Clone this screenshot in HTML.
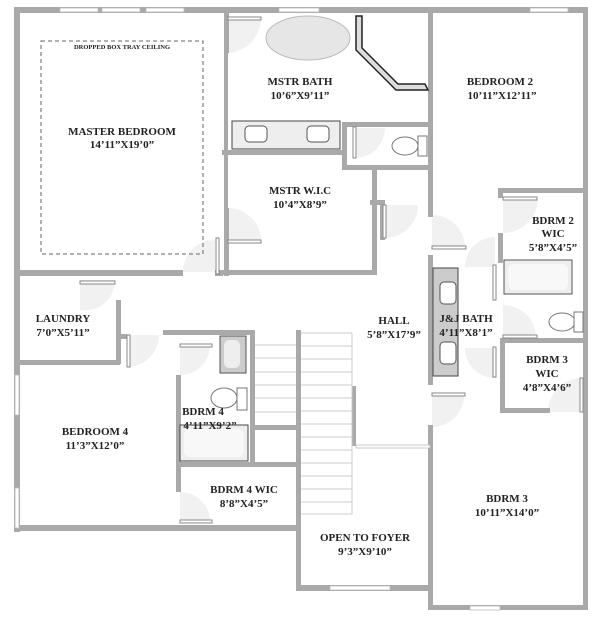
<!DOCTYPE html>
<html><head><style>
html,body{margin:0;padding:0;background:#fff}
svg{display:block}
text{font-family:"Liberation Serif",serif;font-weight:bold;fill:#222;text-anchor:middle}
</style></head><body>
<svg width="600" height="619" viewBox="0 0 600 619" xmlns="http://www.w3.org/2000/svg">
<rect width="600" height="619" fill="#fff"/>
<!-- door swings -->
<g fill="#f1f1f1">
<path d="M228 18 v35 a35 35 0 0 0 33 -35z"/>
<path d="M228 208 v35 h33 a33 33 0 0 0 -33 -35z"/>
<path d="M183 272 h32 v-32 a32 32 0 0 0 -32 32z"/>
<path d="M80 280 v30 a30 30 0 0 0 35 -30z"/>
<path d="M127 335 v32 a32 32 0 0 0 32 -32z"/>
<path d="M180 345 v30 a30 30 0 0 0 30 -30z"/>
<path d="M180 492 v30 h30 a30 30 0 0 0 -30 -30z"/>
<path d="M355 128 v30 a30 30 0 0 0 30 -30z"/>
<path d="M385 205 v33 a33 33 0 0 0 33 -33z"/>
<path d="M432 215 v33 h33 a33 33 0 0 0 -33 -33z"/>
<path d="M503 198 v35 a35 35 0 0 0 35 -35z"/>
<path d="M465 267 h30 v-30 a30 30 0 0 0 -30 30z"/>
<path d="M503 305 v33 h33 a33 33 0 0 0 -33 -33z"/>
<path d="M465 348 h30 v30 a30 30 0 0 1 -30 -30z"/>
<path d="M432 395 v32 a32 32 0 0 0 32 -32z"/>
<path d="M548 412 h34 v-34 a34 34 0 0 0 -34 34z"/>
</g>
<!-- walls -->
<g fill="#a9a9a9">
<rect x="14" y="7" width="574" height="6"/>
<rect x="14" y="7" width="6" height="525"/>
<rect x="14" y="270" width="169" height="6"/>
<rect x="215" y="270" width="8" height="6"/>
<rect x="224" y="7" width="5" height="46"/>
<rect x="224" y="53" width="4" height="155"/>
<rect x="224" y="208" width="5" height="68"/>
<rect x="223" y="270" width="152" height="5"/>
<rect x="372" y="168" width="5" height="107"/>
<rect x="222" y="150" width="120" height="5"/>
<rect x="342" y="122" width="5" height="46"/>
<rect x="342" y="122" width="90" height="5"/>
<rect x="342" y="165" width="90" height="5"/>
<rect x="428" y="7" width="5" height="210"/>
<rect x="380" y="200" width="5" height="40"/>
<rect x="370" y="200" width="15" height="5"/>
<rect x="498" y="188" width="90" height="5"/>
<rect x="498" y="188" width="5" height="10"/>
<rect x="498" y="233" width="5" height="30"/>
<rect x="583" y="7" width="5" height="602"/>
<rect x="428" y="255" width="5" height="130"/>
<rect x="428" y="425" width="5" height="185"/>
<rect x="500" y="338" width="5" height="75"/>
<rect x="500" y="338" width="85" height="5"/>
<rect x="500" y="408" width="50" height="5"/>
<rect x="428" y="605" width="160" height="5"/>
<rect x="116" y="300" width="5" height="64"/>
<rect x="14" y="360" width="106" height="5"/>
<rect x="121" y="334" width="6" height="5"/>
<rect x="163" y="330" width="90" height="5"/>
<rect x="176" y="375" width="5" height="45"/>
<rect x="176" y="420" width="5" height="72"/>
<rect x="176" y="462" width="122" height="5"/>
<rect x="14" y="525" width="286" height="6"/>
<rect x="296" y="330" width="5" height="260"/>
<rect x="250" y="330" width="5" height="135"/>
<rect x="250" y="425" width="48" height="5"/>
<rect x="296" y="585" width="136" height="6"/>
<rect x="352" y="386" width="4" height="60"/>
</g>
<!-- windows -->
<g fill="#fff" stroke="#bbb" stroke-width="0.8">
<rect x="60" y="8" width="38" height="4"/><rect x="102" y="8" width="38" height="4"/><rect x="146" y="8" width="38" height="4"/>
<rect x="279" y="8" width="40" height="4"/><rect x="530" y="8" width="38" height="4"/>
<rect x="15" y="375" width="4" height="40"/><rect x="15" y="488" width="4" height="40"/>
<rect x="330" y="586" width="60" height="4"/><rect x="470" y="606" width="30" height="4"/>
<rect x="356" y="445" width="74" height="3"/>
</g>
<!-- door leaves -->
<g fill="#fff" stroke="#888" stroke-width="1">
<rect x="228" y="17" width="33" height="3"/><rect x="228" y="240" width="33" height="3"/>
<rect x="216" y="238" width="3" height="36"/><rect x="80" y="281" width="35" height="3"/>
<rect x="127" y="335" width="3" height="32"/><rect x="180" y="344" width="32" height="3"/>
<rect x="180" y="520" width="32" height="3"/><rect x="353" y="127" width="3" height="31"/>
<rect x="383" y="205" width="3" height="33"/><rect x="432" y="246" width="34" height="3"/>
<rect x="503" y="197" width="34" height="3"/><rect x="493" y="265" width="3" height="35"/>
<rect x="503" y="335" width="34" height="3"/><rect x="493" y="347" width="3" height="30"/>
<rect x="432" y="393" width="33" height="3"/><rect x="580" y="378" width="3" height="34"/>
</g>
<!-- stairs -->
<g stroke="#ccc" stroke-width="1">
<line x1="255" y1="345" x2="296" y2="345"/><line x1="255" y1="358" x2="296" y2="358"/><line x1="255" y1="372" x2="296" y2="372"/><line x1="255" y1="385" x2="296" y2="385"/><line x1="255" y1="398" x2="296" y2="398"/><line x1="255" y1="412" x2="296" y2="412"/>
<line x1="301" y1="333" x2="352" y2="333"/><line x1="301" y1="346" x2="352" y2="346"/><line x1="301" y1="359" x2="352" y2="359"/><line x1="301" y1="372" x2="352" y2="372"/><line x1="301" y1="385" x2="352" y2="385"/><line x1="301" y1="398" x2="352" y2="398"/><line x1="301" y1="411" x2="352" y2="411"/><line x1="301" y1="424" x2="352" y2="424"/><line x1="301" y1="437" x2="352" y2="437"/><line x1="301" y1="450" x2="352" y2="450"/><line x1="301" y1="463" x2="352" y2="463"/><line x1="301" y1="476" x2="352" y2="476"/><line x1="301" y1="489" x2="352" y2="489"/><line x1="301" y1="502" x2="352" y2="502"/><line x1="301" y1="514" x2="352" y2="514"/>
<line x1="352" y1="333" x2="352" y2="514"/>
</g>
<!-- tray ceiling -->
<rect x="41" y="41" width="162" height="213" fill="none" stroke="#666" stroke-width="1" stroke-dasharray="4,3"/>
<!-- fixtures -->
<ellipse cx="308" cy="38" rx="42" ry="22" fill="#e6e6e6" stroke="#bbb"/>
<path d="M356 16 L362 16 L362 48 L398 84 L425 84 L428 90 L396 90 L356 50Z" fill="#ddd" stroke="#222" stroke-width="1.5"/>
<rect x="232" y="121" width="108" height="28" fill="#eee" stroke="#444"/>
<rect x="245" y="126" width="22" height="16" rx="4" fill="#fff" stroke="#555"/>
<rect x="307" y="126" width="22" height="16" rx="4" fill="#fff" stroke="#555"/>
<ellipse cx="405" cy="146" rx="13" ry="9" fill="#fff" stroke="#777"/><rect x="418" y="136" width="9" height="20" fill="#fff" stroke="#777"/>
<rect x="433" y="268" width="25" height="108" fill="#ccc" stroke="#444"/>
<rect x="440" y="282" width="16" height="22" rx="4" fill="#fff" stroke="#555"/>
<rect x="440" y="342" width="16" height="22" rx="4" fill="#fff" stroke="#555"/>
<rect x="504" y="260" width="68" height="34" fill="#eee" stroke="#555"/>
<rect x="508" y="264" width="60" height="26" rx="6" fill="#f8f8f8"/>
<ellipse cx="562" cy="322" rx="13" ry="9" fill="#fff" stroke="#777"/><rect x="574" y="312" width="9" height="20" fill="#fff" stroke="#777"/>
<rect x="220" y="336" width="26" height="37" fill="#ccc" stroke="#555"/>
<rect x="224" y="340" width="16" height="28" rx="5" fill="#eee"/>
<ellipse cx="224" cy="398" rx="13" ry="10" fill="#fff" stroke="#777"/><rect x="237" y="388" width="10" height="22" fill="#fff" stroke="#777"/>
<rect x="180" y="425" width="68" height="36" fill="#eee" stroke="#444"/>
<rect x="184" y="429" width="60" height="28" rx="6" fill="#f8f8f8"/>
<!-- labels -->
<text x="122" y="49" font-size="6.5">DROPPED BOX TRAY CEILING</text>
<text x="122" y="135" font-size="11">MASTER BEDROOM</text><text x="122" y="148" font-size="11">14’11”X19’0”</text>
<text x="300" y="85" font-size="11">MSTR BATH</text><text x="300" y="99" font-size="11">10’6”X9’11”</text>
<text x="300" y="194" font-size="11">MSTR W.I.C</text><text x="300" y="208" font-size="11">10’4”X8’9”</text>
<text x="500" y="85" font-size="11">BEDROOM 2</text><text x="502" y="99" font-size="11">10’11”X12’11”</text>
<text x="553" y="224" font-size="11">BDRM 2</text><text x="553" y="237" font-size="11">WIC</text><text x="553" y="251" font-size="11">5’8”X4’5”</text>
<text x="63" y="322" font-size="11">LAUNDRY</text><text x="63" y="336" font-size="11">7’0”X5’11”</text>
<text x="394" y="324" font-size="11">HALL</text><text x="394" y="338" font-size="11">5’8”X17’9”</text>
<text x="466" y="322" font-size="11">J&amp;J BATH</text><text x="466" y="336" font-size="11">4’11”X8’1”</text>
<text x="547" y="363" font-size="11">BDRM 3</text><text x="547" y="377" font-size="11">WIC</text><text x="547" y="391" font-size="11">4’8”X4’6”</text>
<text x="203" y="415" font-size="11">BDRM 4</text><text x="210" y="429" font-size="11">4’11”X9’2”</text>
<text x="95" y="435" font-size="11">BEDROOM 4</text><text x="95" y="449" font-size="11">11’3”X12’0”</text>
<text x="244" y="493" font-size="11">BDRM 4 WIC</text><text x="244" y="507" font-size="11">8’8”X4’5”</text>
<text x="507" y="502" font-size="11">BDRM 3</text><text x="507" y="516" font-size="11">10’11”X14’0”</text>
<text x="365" y="541" font-size="11">OPEN TO FOYER</text><text x="365" y="555" font-size="11">9’3”X9’10”</text>
</svg>
</body></html>
